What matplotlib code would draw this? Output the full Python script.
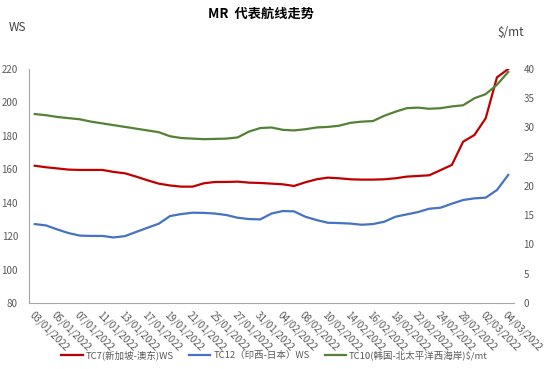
import matplotlib
matplotlib.use("Agg")
import matplotlib.pyplot as plt
import numpy as np

plt.rcParams['font.family'] = ['Noto Sans CJK SC', 'DejaVu Sans']

dates = ["03/01/2022", "04/01/2022", "05/01/2022", "06/01/2022", "07/01/2022",
         "10/01/2022", "11/01/2022", "12/01/2022", "13/01/2022", "14/01/2022",
         "17/01/2022", "18/01/2022", "19/01/2022", "20/01/2022", "21/01/2022",
         "24/01/2022", "25/01/2022", "26/01/2022", "27/01/2022", "28/01/2022",
         "31/01/2022", "02/02/2022", "04/02/2022", "07/02/2022", "08/02/2022",
         "09/02/2022", "10/02/2022", "11/02/2022", "14/02/2022", "15/02/2022",
         "16/02/2022", "17/02/2022", "18/02/2022", "21/02/2022", "22/02/2022",
         "23/02/2022", "24/02/2022", "25/02/2022", "28/02/2022", "01/03/2022",
         "02/03/2022", "03/03/2022", "04/03/2022"]

tc7 = [162.1, 161.2, 160.5, 159.8, 159.6, 159.6, 159.6, 158.4, 157.6, 155.6,
       153.4, 151.4, 150.3, 149.6, 149.6, 151.6, 152.4, 152.4, 152.6, 152.0,
       151.8, 151.4, 151.0, 150.0, 152.2, 154.0, 155.0, 154.6, 154.0, 153.8,
       153.8, 154.0, 154.6, 155.6, 156.0, 156.4, 159.5, 162.6, 176.5, 180.5,
       190.5, 215.0, 220.0]

tc12 = [127.2, 126.4, 124.0, 121.8, 120.3, 120.1, 120.1, 119.2, 120.0, 122.5,
        125.0, 127.4, 132.0, 133.2, 134.0, 133.9, 133.5, 132.6, 131.0, 130.2,
        130.0, 133.5, 135.0, 134.8, 131.6, 129.6, 128.0, 127.8, 127.5, 126.8,
        127.2, 128.6, 131.6, 133.0, 134.4, 136.4, 137.0, 139.4, 141.6, 142.6,
        143.0, 147.6, 156.6]

tc10 = [32.3, 32.1, 31.8, 31.6, 31.4, 31.0, 30.7, 30.4, 30.1, 29.8,
        29.5, 29.2, 28.5, 28.2, 28.1, 28.0, 28.05, 28.1, 28.3, 29.3,
        29.9, 30.0, 29.6, 29.5, 29.7, 30.0, 30.1, 30.3, 30.8, 31.0,
        31.1, 32.0, 32.7, 33.3, 33.4, 33.2, 33.3, 33.6, 33.8, 35.0,
        35.7, 37.3, 39.5]

x = np.arange(len(dates))

fig = plt.figure(figsize=(5.49, 3.69), dpi=100)
ax = fig.add_axes([0.053, 0.179, 0.883, 0.634])
ax2 = ax.twinx()

l1, = ax.plot(x, tc7, color='#C00000', lw=1.6, label='TC7(新加坡-澳东)WS')
l2, = ax.plot(x, tc12, color='#4472C4', lw=1.6, label='TC12（印西-日本）WS')
l3, = ax2.plot(x, tc10, color='#548235', lw=1.6, label='TC10(韩国-北太平洋西海岸)\\$/mt')

ax.set_xlim(-0.5, len(dates) - 0.5)
ax.set_ylim(80, 220)
ax.set_yticks(np.arange(80, 221, 20))
ax2.set_ylim(0, 40)
ax2.set_yticks(np.arange(0, 41, 5))

ax.set_xticks(x[::2])
ax.set_xticklabels(dates[::2], rotation=-45, ha='left', va='top',
                   rotation_mode='anchor', fontsize=4.7, color='#595959')

for a in (ax, ax2):
    for s in a.spines.values():
        s.set_visible(False)
    a.tick_params(length=0, labelsize=7, labelcolor='#595959')
ax.spines['left'].set_visible(True)
ax.spines['bottom'].set_visible(True)
ax.spines['left'].set_color('#A6A6A6')
ax.spines['bottom'].set_color('#A6A6A6')
ax.tick_params(axis='y', pad=8)
ax2.tick_params(axis='y', pad=7)
ax.tick_params(axis='x', pad=5)

fig.text(0.475, 0.963, 'MR  代表航线走势', ha='center', va='center',
         fontsize=9.5, fontweight='bold')
fig.text(0.015, 0.925, 'WS', ha='left', va='center', fontsize=8.5, color='#404040')
fig.text(0.93, 0.912, '\\$/mt', ha='center', va='center', fontsize=8.5, color='#404040')

fig.legend(handles=[l1, l2, l3], loc='center', bbox_to_anchor=(0.5, 0.038),
           ncol=3, frameon=False, fontsize=6.8, handlelength=2.3,
           columnspacing=1.6, handletextpad=0.3, labelcolor='#595959')

fig.savefig('out.png', dpi=100)
